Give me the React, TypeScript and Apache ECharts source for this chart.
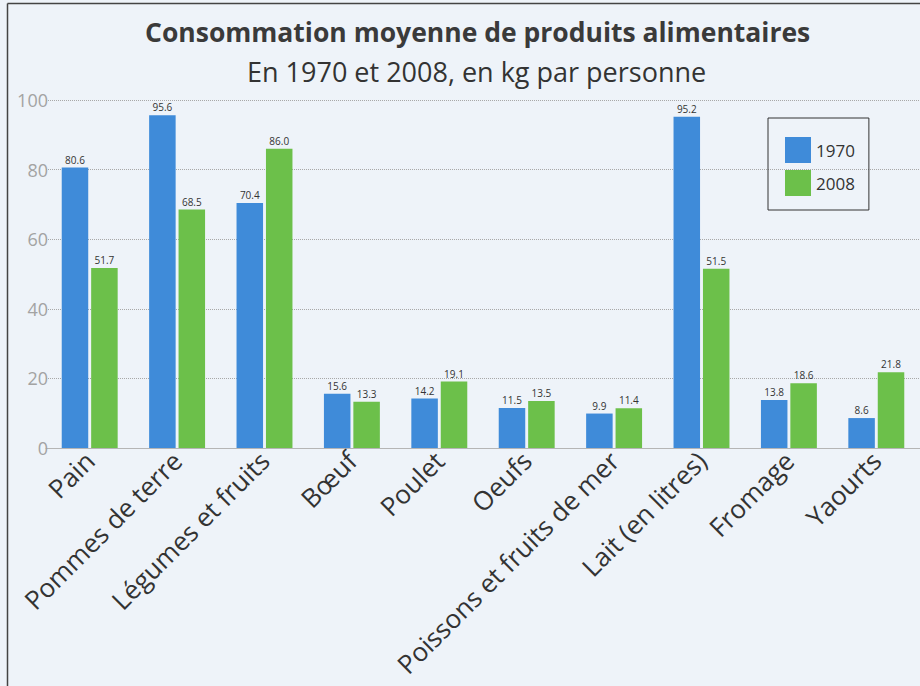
import React, { useEffect, useRef } from "react";
import * as echarts from "echarts";

const categories = [
  "Pain",
  "Pommes de terre",
  "Légumes et fruits",
  "Bœuf",
  "Poulet",
  "Oeufs",
  "Poissons et fruits de mer",
  "Lait (en litres)",
  "Fromage",
  "Yaourts",
];
const values1970 = [80.6, 95.6, 70.4, 15.6, 14.2, 11.5, 9.9, 95.2, 13.8, 8.6];
const values2008 = [51.7, 68.5, 86.0, 13.3, 19.1, 13.5, 11.4, 51.5, 18.6, 21.8];
const seriesNames = ["1970", "2008"];
const yTicks = { min: 0, max: 100, interval: 20 };

const FONT = "'Open Sans', 'Noto Sans', sans-serif";

export default function App() {
  const ref = useRef<HTMLDivElement>(null);
  useEffect(() => {
    if (!ref.current) return;
    const chart = echarts.init(ref.current, null, { renderer: "svg" });
    const labelStyle = {
      show: true,
      position: "top",
      distance: 3,
      fontSize: 10,
      color: "#333",
      fontFamily: FONT,
      formatter: (p: any) => Number(p.value).toFixed(1),
    };
    chart.setOption({
      animation: false,
      backgroundColor: "#eef3f9",
      textStyle: { fontFamily: FONT },
      title: [
        {
          text: "Consommation moyenne de produits alimentaires",
          left: 140,
          top: 13,
          textStyle: { fontSize: 26.5, fontWeight: "bold", color: "#3a3a3a", fontFamily: FONT },
        },
        {
          text: "En 1970 et 2008, en kg par personne",
          left: 242,
          top: 53,
          textStyle: { fontSize: 27, fontWeight: "normal", color: "#333", fontFamily: FONT },
        },
      ],
      legend: {
        orient: "vertical",
        left: 768,
        top: 118,
        data: seriesNames,
        itemWidth: 26,
        itemHeight: 26,
        itemGap: 7,
        itemTextGap: 9,
        padding: [19, 14, 14, 17],
        borderColor: "#333",
        borderWidth: 1,
        icon: "rect",
        textStyle: { fontSize: 17, color: "#333", fontFamily: FONT },
      },
      grid: { left: 46, right: -11, top: 100, bottom: 238 },
      xAxis: {
        type: "category",
        data: categories,
        axisTick: { show: false },
        axisLine: { lineStyle: { color: "#b5b5b5", width: 1 } },
        axisLabel: {
          rotate: 45,
          interval: 0,
          margin: 8,
          fontSize: 26,
          color: "#333",
          fontFamily: FONT,
        },
      },
      yAxis: {
        type: "value",
        min: yTicks.min,
        max: yTicks.max,
        interval: yTicks.interval,
        axisLine: { show: false },
        axisTick: { show: false },
        axisLabel: { fontSize: 18, color: "#a3a3a3", margin: -2, fontFamily: FONT },
        splitLine: { lineStyle: { type: "dotted", color: "#a8a8a8", width: 1 } },
      },
      series: [
        {
          name: seriesNames[0],
          type: "bar",
          data: values1970,
          itemStyle: { color: "#3f8bd9" },
          barGap: "11%",
          barCategoryGap: "36%",
          label: labelStyle,
        },
        {
          name: seriesNames[1],
          type: "bar",
          data: values2008,
          itemStyle: { color: "#6cc04a" },
          barGap: "11%",
          barCategoryGap: "36%",
          label: labelStyle,
        },
      ],
      graphic: [
        {
          type: "line",
          shape: { x1: 7.5, y1: 3.5, x2: 920, y2: 3.5 },
          style: { stroke: "#444", lineWidth: 1.5 },
        },
        {
          type: "line",
          shape: { x1: 7.5, y1: 3.5, x2: 7.5, y2: 686 },
          style: { stroke: "#444", lineWidth: 1.5 },
        },
      ],
    });
    return () => chart.dispose();
  }, []);
  return (
    <div
      ref={ref}
      style={{ position: "fixed", left: 0, top: 0, width: 920, height: 686 }}
    />
  );
}
